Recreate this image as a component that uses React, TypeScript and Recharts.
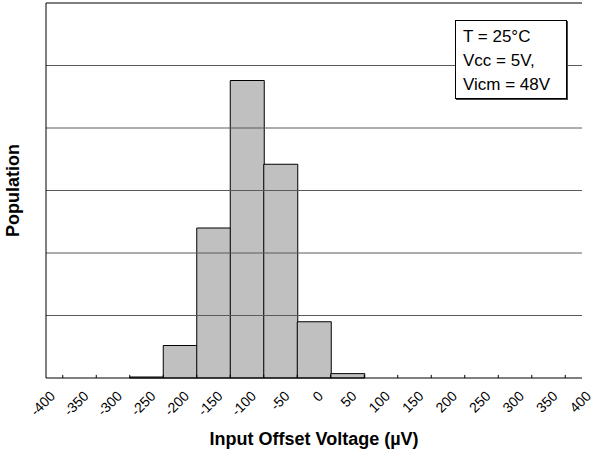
import { BarChart, Bar, XAxis, YAxis, ReferenceLine } from 'recharts'

// histogram bins (centre of each 50 µV bin) and relative population
const binCentres = [-250, -200, -150, -100, -50, 0, 50]
const population = [0.016, 0.52, 2.4, 4.76, 3.42, 0.9, 0.07]

// labelled ticks and the small inward tick marks between them
const labelTicks = [-400, -350, -300, -250, -200, -150, -100, -50, 0, 50, 100, 150, 200, 250, 300, 350, 400]
const markTicks = [-375, -325, -275, -225, -175, -125, -75, -25, 25, 75, 125, 175, 225, 275, 325, 375]
const gridTicks = [0, 1, 2, 3, 4, 5, 6]
const markLen = 0.05 // in population units, a few px

const legendLines = ['T = 25°C', 'Vcc = 5V,', 'Vicm = 48V']

const FONT = '"Liberation Sans", Arial, sans-serif'

const data = binCentres.map((v, i) => ({ v, n: population[i] }))

function AxisTick(props: any) {
  const { x, y, payload } = props
  const ax = x + 10
  const ay = y + 19
  return (
    <text x={ax} y={ay} textAnchor="end" transform={`rotate(-45 ${ax} ${ay})`}
      fontSize={14} fontFamily={FONT} fill="#000">
      {payload.value}
    </text>
  )
}

export default function App() {
  return (
    <div style={{ position: 'absolute', left: 0, top: 0, width: 593, height: 452, background: '#fff', fontFamily: FONT }}>
      <BarChart width={593} height={452} data={data} barCategoryGap={0} barGap={0}
        margin={{ top: 3, right: 11, left: -20, bottom: 0 }}>
        <XAxis
          dataKey="v"
          type="number"
          domain={[-400, 400]}
          ticks={labelTicks}
          tickCount={17}
          interval={0}
          tickLine={false}
          tickSize={0}
          tickMargin={0}
          axisLine={{ stroke: '#000' }}
          height={74}
          tick={<AxisTick />}
          label={{ value: 'Input Offset Voltage (µV)', position: 'insideBottom', offset: 7,
            style: { fontSize: 18, fontWeight: 700, fontFamily: FONT, fill: '#000' } }}
        />
        <YAxis domain={[0, 6]} ticks={gridTicks} tick={false} tickLine={false} width={66}
          axisLine={{ stroke: '#000' }}
          label={{ value: 'Population', angle: -90, position: 'center',
            style: { fontSize: 18, fontWeight: 700, fontFamily: FONT, fill: '#000', textAnchor: 'middle' } }}
        />
        <YAxis yAxisId="r" orientation="right" domain={[0, 6]} ticks={gridTicks} tick={false} tickLine={false}
          width={0} axisLine={{ stroke: '#000' }} />
        {/* horizontal grid; top one doubles as the plot border */}
        {gridTicks.slice(1).map((g) => (
          <ReferenceLine key={`g${g}`} y={g} stroke={g === 6 ? '#000' : '#5a5a5a'} />
        ))}
        {markTicks.map((m) => (
          <ReferenceLine key={m} segment={[{ x: m, y: 0 }, { x: m, y: markLen }]} stroke="#000" />
        ))}
        <Bar dataKey="n" fill="#c0c0c0" stroke="#000" strokeWidth={1} isAnimationActive={false} />
      </BarChart>
      <div style={{ position: 'absolute', left: 455, top: 20, width: 110, height: 77, border: '1px solid #000',
        background: '#fff', boxShadow: '1px 1px 0 #444', boxSizing: 'content-box' }}>
        {legendLines.map((t, i) => (
          <div key={t} style={{ position: 'absolute', left: 7, top: 4 + i * 24, fontSize: 17, lineHeight: '24px',
            whiteSpace: 'nowrap', color: '#000' }}>{t}</div>
        ))}
      </div>
    </div>
  )
}
